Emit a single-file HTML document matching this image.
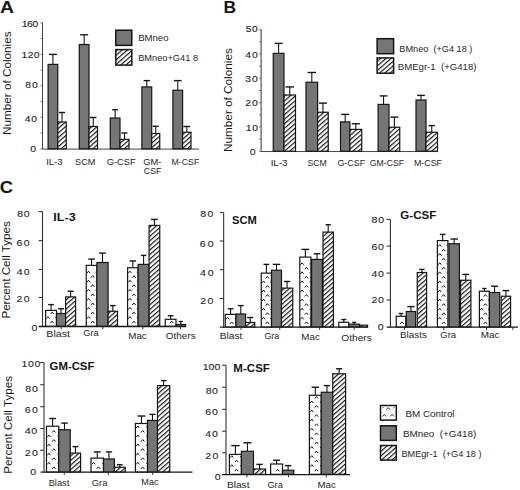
<!DOCTYPE html>
<html><head><meta charset="utf-8"><title>Figure</title>
<style>html,body{margin:0;padding:0;background:#fff;}svg{display:block;}text{font-family:"Liberation Sans",sans-serif;}</style>
</head><body>
<svg width="520" height="490" viewBox="0 0 520 490">
<defs>
<pattern id="hatch" width="3.45" height="10" patternUnits="userSpaceOnUse" patternTransform="rotate(49)">
<rect width="3.45" height="10" fill="#fff"/><rect x="0" y="0" width="1.15" height="10" fill="#141414"/>
</pattern>
</defs>
<rect width="520" height="490" fill="#fff"/>
<text x="0.01" y="13.00" font-size="16.5" font-weight="700" fill="#161616" textLength="13.98" lengthAdjust="spacingAndGlyphs">A</text>
<text x="223.41" y="13.10" font-size="16.5" font-weight="700" fill="#161616" textLength="12.58" lengthAdjust="spacingAndGlyphs">B</text>
<text x="-0.39" y="193.20" font-size="16.5" font-weight="700" fill="#161616" textLength="13.28" lengthAdjust="spacingAndGlyphs">C</text>
<line x1="42.50" y1="22.50" x2="42.50" y2="149.30" stroke="#444" stroke-width="1.0"/>
<line x1="40.50" y1="148.80" x2="42.50" y2="148.80" stroke="#555" stroke-width="0.8"/>
<line x1="40.50" y1="133.05" x2="42.50" y2="133.05" stroke="#555" stroke-width="0.8"/>
<line x1="40.50" y1="117.30" x2="42.50" y2="117.30" stroke="#555" stroke-width="0.8"/>
<line x1="40.50" y1="101.55" x2="42.50" y2="101.55" stroke="#555" stroke-width="0.8"/>
<line x1="40.50" y1="85.80" x2="42.50" y2="85.80" stroke="#555" stroke-width="0.8"/>
<line x1="40.50" y1="70.05" x2="42.50" y2="70.05" stroke="#555" stroke-width="0.8"/>
<line x1="40.50" y1="54.30" x2="42.50" y2="54.30" stroke="#555" stroke-width="0.8"/>
<line x1="40.50" y1="38.55" x2="42.50" y2="38.55" stroke="#555" stroke-width="0.8"/>
<line x1="40.50" y1="22.80" x2="42.50" y2="22.80" stroke="#555" stroke-width="0.8"/>
<line x1="42.50" y1="149.10" x2="199.00" y2="149.10" stroke="#444" stroke-width="1.0"/>
<text transform="translate(21.68,26.90) scale(1.18,1)" x="0" y="0" font-size="8.8" font-weight="400" fill="#1e1e1e" stroke="#1e1e1e" stroke-width="0.1" textLength="14.11" lengthAdjust="spacing">160</text>
<text transform="translate(21.58,57.90) scale(1.18,1)" x="0" y="0" font-size="8.8" font-weight="400" fill="#1e1e1e" stroke="#1e1e1e" stroke-width="0.1" textLength="15.29" lengthAdjust="spacing">120</text>
<text transform="translate(25.28,88.40) scale(1.18,1)" x="0" y="0" font-size="8.8" font-weight="400" fill="#1e1e1e" stroke="#1e1e1e" stroke-width="0.1" textLength="10.63" lengthAdjust="spacing">80</text>
<text transform="translate(24.68,121.50) scale(1.18,1)" x="0" y="0" font-size="8.8" font-weight="400" fill="#1e1e1e" stroke="#1e1e1e" stroke-width="0.1" textLength="10.46" lengthAdjust="spacing">40</text>
<text transform="translate(30.28,151.80) scale(1.18,1)" x="0" y="0" font-size="8.8" font-weight="400" fill="#1e1e1e" stroke="#1e1e1e" stroke-width="0.1" textLength="5.12" lengthAdjust="spacing">0</text>
<text transform="translate(10.60,134.90) rotate(-90)" x="0" y="0" font-size="11.6" fill="#161616" textLength="103.49" lengthAdjust="spacingAndGlyphs">Number of Colonies</text>
<rect x="48.10" y="64.40" width="9.65" height="84.40" fill="#757575" stroke="#161616" stroke-width="1.2"/>
<line x1="52.92" y1="64.40" x2="52.92" y2="54.40" stroke="#161616" stroke-width="1.1"/>
<line x1="48.92" y1="54.40" x2="56.92" y2="54.40" stroke="#161616" stroke-width="1.4"/>
<rect x="57.75" y="122.00" width="8.50" height="26.80" fill="url(#hatch)" stroke="#161616" stroke-width="1.2"/>
<line x1="62.00" y1="122.00" x2="62.00" y2="112.50" stroke="#161616" stroke-width="1.1"/>
<line x1="58.88" y1="112.50" x2="65.12" y2="112.50" stroke="#161616" stroke-width="1.4"/>
<rect x="79.30" y="44.50" width="9.70" height="104.30" fill="#757575" stroke="#161616" stroke-width="1.2"/>
<line x1="84.15" y1="44.50" x2="84.15" y2="34.80" stroke="#161616" stroke-width="1.1"/>
<line x1="80.15" y1="34.80" x2="88.15" y2="34.80" stroke="#161616" stroke-width="1.4"/>
<rect x="89.00" y="126.50" width="8.50" height="22.30" fill="url(#hatch)" stroke="#161616" stroke-width="1.2"/>
<line x1="93.25" y1="126.50" x2="93.25" y2="117.50" stroke="#161616" stroke-width="1.1"/>
<line x1="90.00" y1="117.50" x2="96.50" y2="117.50" stroke="#161616" stroke-width="1.4"/>
<rect x="110.25" y="118.00" width="9.75" height="30.80" fill="#757575" stroke="#161616" stroke-width="1.2"/>
<line x1="115.12" y1="118.00" x2="115.12" y2="109.75" stroke="#161616" stroke-width="1.1"/>
<line x1="112.12" y1="109.75" x2="118.12" y2="109.75" stroke="#161616" stroke-width="1.4"/>
<rect x="120.00" y="139.40" width="9.00" height="9.40" fill="url(#hatch)" stroke="#161616" stroke-width="1.2"/>
<line x1="124.50" y1="139.40" x2="124.50" y2="133.00" stroke="#161616" stroke-width="1.1"/>
<line x1="121.50" y1="133.00" x2="127.50" y2="133.00" stroke="#161616" stroke-width="1.4"/>
<rect x="141.90" y="86.90" width="9.80" height="61.90" fill="#757575" stroke="#161616" stroke-width="1.2"/>
<line x1="146.80" y1="86.90" x2="146.80" y2="80.60" stroke="#161616" stroke-width="1.1"/>
<line x1="143.60" y1="80.60" x2="150.00" y2="80.60" stroke="#161616" stroke-width="1.4"/>
<rect x="151.70" y="133.50" width="8.05" height="15.30" fill="url(#hatch)" stroke="#161616" stroke-width="1.2"/>
<line x1="155.72" y1="133.50" x2="155.72" y2="126.25" stroke="#161616" stroke-width="1.1"/>
<line x1="152.72" y1="126.25" x2="158.72" y2="126.25" stroke="#161616" stroke-width="1.4"/>
<rect x="172.90" y="90.25" width="9.70" height="58.55" fill="#757575" stroke="#161616" stroke-width="1.2"/>
<line x1="177.75" y1="90.25" x2="177.75" y2="80.60" stroke="#161616" stroke-width="1.1"/>
<line x1="173.90" y1="80.60" x2="181.60" y2="80.60" stroke="#161616" stroke-width="1.4"/>
<rect x="182.60" y="132.25" width="8.40" height="16.55" fill="url(#hatch)" stroke="#161616" stroke-width="1.2"/>
<line x1="186.80" y1="132.25" x2="186.80" y2="126.50" stroke="#161616" stroke-width="1.1"/>
<line x1="183.43" y1="126.50" x2="190.18" y2="126.50" stroke="#161616" stroke-width="1.4"/>
<rect x="115.8" y="30.2" width="16" height="15.2" fill="#757575" stroke="#161616" stroke-width="1.5"/>
<rect x="115.8" y="49.6" width="16" height="15.5" fill="url(#hatch)" stroke="#161616" stroke-width="1.5"/>
<text x="138.20" y="40.90" font-size="9.2" font-weight="400" fill="#262626" textLength="30.35" lengthAdjust="spacingAndGlyphs">BMneo</text>
<text x="138.20" y="60.60" font-size="9.2" font-weight="400" fill="#262626" textLength="59.85" lengthAdjust="spacingAndGlyphs">BMneo+G41 8</text>
<text x="46.15" y="165.00" font-size="9.2" font-weight="400" fill="#262626" textLength="16.40" lengthAdjust="spacingAndGlyphs">IL-3</text>
<text x="75.05" y="165.00" font-size="9.2" font-weight="400" fill="#262626" textLength="20.30" lengthAdjust="spacingAndGlyphs">SCM</text>
<text x="106.75" y="165.00" font-size="9.2" font-weight="400" fill="#262626" textLength="29.00" lengthAdjust="spacingAndGlyphs">G-CSF</text>
<text x="143.25" y="164.60" font-size="9.2" font-weight="400" fill="#262626" textLength="18.10" lengthAdjust="spacingAndGlyphs">GM-</text>
<text x="143.85" y="174.00" font-size="9.2" font-weight="400" fill="#262626" textLength="17.50" lengthAdjust="spacingAndGlyphs">CSF</text>
<text x="171.45" y="165.00" font-size="9.2" font-weight="400" fill="#262626" textLength="27.90" lengthAdjust="spacingAndGlyphs">M-CSF</text>
<line x1="261.10" y1="29.30" x2="261.10" y2="151.75" stroke="#444" stroke-width="1.1"/>
<line x1="259.10" y1="151.25" x2="261.10" y2="151.25" stroke="#555" stroke-width="0.8"/>
<line x1="259.10" y1="139.10" x2="261.10" y2="139.10" stroke="#555" stroke-width="0.8"/>
<line x1="259.10" y1="126.95" x2="261.10" y2="126.95" stroke="#555" stroke-width="0.8"/>
<line x1="259.10" y1="114.80" x2="261.10" y2="114.80" stroke="#555" stroke-width="0.8"/>
<line x1="259.10" y1="102.65" x2="261.10" y2="102.65" stroke="#555" stroke-width="0.8"/>
<line x1="259.10" y1="90.50" x2="261.10" y2="90.50" stroke="#555" stroke-width="0.8"/>
<line x1="259.10" y1="78.35" x2="261.10" y2="78.35" stroke="#555" stroke-width="0.8"/>
<line x1="259.10" y1="66.20" x2="261.10" y2="66.20" stroke="#555" stroke-width="0.8"/>
<line x1="259.10" y1="54.05" x2="261.10" y2="54.05" stroke="#555" stroke-width="0.8"/>
<line x1="259.10" y1="41.90" x2="261.10" y2="41.90" stroke="#555" stroke-width="0.8"/>
<line x1="259.10" y1="29.75" x2="261.10" y2="29.75" stroke="#555" stroke-width="0.8"/>
<line x1="261.10" y1="151.55" x2="437.50" y2="151.55" stroke="#444" stroke-width="1.0"/>
<text transform="translate(245.68,32.10) scale(1.18,1)" x="0" y="0" font-size="8.8" font-weight="400" fill="#1e1e1e" stroke="#1e1e1e" stroke-width="0.1" textLength="10.29" lengthAdjust="spacing">50</text>
<text transform="translate(245.28,57.70) scale(1.18,1)" x="0" y="0" font-size="8.8" font-weight="400" fill="#1e1e1e" stroke="#1e1e1e" stroke-width="0.1" textLength="10.63" lengthAdjust="spacing">40</text>
<text transform="translate(245.28,82.10) scale(1.18,1)" x="0" y="0" font-size="8.8" font-weight="400" fill="#1e1e1e" stroke="#1e1e1e" stroke-width="0.1" textLength="10.63" lengthAdjust="spacing">30</text>
<text transform="translate(245.28,105.60) scale(1.18,1)" x="0" y="0" font-size="8.8" font-weight="400" fill="#1e1e1e" stroke="#1e1e1e" stroke-width="0.1" textLength="10.63" lengthAdjust="spacing">20</text>
<text transform="translate(245.68,130.80) scale(1.18,1)" x="0" y="0" font-size="8.8" font-weight="400" fill="#1e1e1e" stroke="#1e1e1e" stroke-width="0.1" textLength="10.46" lengthAdjust="spacing">10</text>
<text transform="translate(249.68,154.60) scale(1.18,1)" x="0" y="0" font-size="8.8" font-weight="400" fill="#1e1e1e" stroke="#1e1e1e" stroke-width="0.1" textLength="4.78" lengthAdjust="spacing">0</text>
<text transform="translate(232.00,151.95) rotate(-90)" x="0" y="0" font-size="11.6" fill="#161616" textLength="103.74" lengthAdjust="spacingAndGlyphs">Number of Colonies</text>
<rect x="273.25" y="53.40" width="10.75" height="97.85" fill="#757575" stroke="#161616" stroke-width="1.2"/>
<line x1="278.62" y1="53.40" x2="278.62" y2="43.40" stroke="#161616" stroke-width="1.1"/>
<line x1="274.62" y1="43.40" x2="282.62" y2="43.40" stroke="#161616" stroke-width="1.4"/>
<rect x="284.00" y="95.00" width="11.50" height="56.25" fill="url(#hatch)" stroke="#161616" stroke-width="1.2"/>
<line x1="289.75" y1="95.00" x2="289.75" y2="86.90" stroke="#161616" stroke-width="1.1"/>
<line x1="285.50" y1="86.90" x2="294.00" y2="86.90" stroke="#161616" stroke-width="1.4"/>
<rect x="306.00" y="82.25" width="11.60" height="69.00" fill="#757575" stroke="#161616" stroke-width="1.2"/>
<line x1="311.80" y1="82.25" x2="311.80" y2="72.50" stroke="#161616" stroke-width="1.1"/>
<line x1="307.55" y1="72.50" x2="316.05" y2="72.50" stroke="#161616" stroke-width="1.4"/>
<rect x="317.60" y="112.25" width="10.65" height="39.00" fill="url(#hatch)" stroke="#161616" stroke-width="1.2"/>
<line x1="322.93" y1="112.25" x2="322.93" y2="103.10" stroke="#161616" stroke-width="1.1"/>
<line x1="318.88" y1="103.10" x2="326.98" y2="103.10" stroke="#161616" stroke-width="1.4"/>
<rect x="340.50" y="121.90" width="9.40" height="29.35" fill="#757575" stroke="#161616" stroke-width="1.2"/>
<line x1="345.20" y1="121.90" x2="345.20" y2="114.40" stroke="#161616" stroke-width="1.1"/>
<line x1="341.10" y1="114.40" x2="349.30" y2="114.40" stroke="#161616" stroke-width="1.4"/>
<rect x="349.90" y="129.40" width="11.85" height="21.85" fill="url(#hatch)" stroke="#161616" stroke-width="1.2"/>
<line x1="355.82" y1="129.40" x2="355.82" y2="123.75" stroke="#161616" stroke-width="1.1"/>
<line x1="351.77" y1="123.75" x2="359.88" y2="123.75" stroke="#161616" stroke-width="1.4"/>
<rect x="378.10" y="104.40" width="10.90" height="46.85" fill="#757575" stroke="#161616" stroke-width="1.2"/>
<line x1="383.55" y1="104.40" x2="383.55" y2="95.90" stroke="#161616" stroke-width="1.1"/>
<line x1="379.68" y1="95.90" x2="387.43" y2="95.90" stroke="#161616" stroke-width="1.4"/>
<rect x="389.00" y="127.25" width="10.75" height="24.00" fill="url(#hatch)" stroke="#161616" stroke-width="1.2"/>
<line x1="394.38" y1="127.25" x2="394.38" y2="117.10" stroke="#161616" stroke-width="1.1"/>
<line x1="390.50" y1="117.10" x2="398.25" y2="117.10" stroke="#161616" stroke-width="1.4"/>
<rect x="416.00" y="100.00" width="10.00" height="51.25" fill="#757575" stroke="#161616" stroke-width="1.2"/>
<line x1="421.00" y1="100.00" x2="421.00" y2="95.40" stroke="#161616" stroke-width="1.1"/>
<line x1="417.12" y1="95.40" x2="424.88" y2="95.40" stroke="#161616" stroke-width="1.4"/>
<rect x="426.00" y="132.25" width="11.50" height="19.00" fill="url(#hatch)" stroke="#161616" stroke-width="1.2"/>
<line x1="431.75" y1="132.25" x2="431.75" y2="125.60" stroke="#161616" stroke-width="1.1"/>
<line x1="428.62" y1="125.60" x2="434.88" y2="125.60" stroke="#161616" stroke-width="1.4"/>
<rect x="377.1" y="38.7" width="16.5" height="15" fill="#757575" stroke="#161616" stroke-width="1.5"/>
<rect x="377.1" y="57.9" width="16.5" height="15.3" fill="url(#hatch)" stroke="#161616" stroke-width="1.5"/>
<text x="399.35" y="51.60" font-size="9.2" font-weight="400" fill="#262626" textLength="73.00" lengthAdjust="spacingAndGlyphs">BMneo&#160;&#160;(+G4 18 )</text>
<text x="397.75" y="70.30" font-size="9.2" font-weight="400" fill="#262626" textLength="78.70" lengthAdjust="spacingAndGlyphs">BMEgr-1&#160;&#160;(+G418)</text>
<text x="270.65" y="166.00" font-size="9.2" font-weight="400" fill="#262626" textLength="16.90" lengthAdjust="spacingAndGlyphs">IL-3</text>
<text x="307.45" y="166.00" font-size="9.2" font-weight="400" fill="#262626" textLength="19.40" lengthAdjust="spacingAndGlyphs">SCM</text>
<text x="337.45" y="166.00" font-size="9.2" font-weight="400" fill="#262626" textLength="27.70" lengthAdjust="spacingAndGlyphs">G-CSF</text>
<text x="369.85" y="166.00" font-size="9.2" font-weight="400" fill="#262626" textLength="34.10" lengthAdjust="spacingAndGlyphs">GM-CSF</text>
<text x="413.95" y="166.20" font-size="9.2" font-weight="400" fill="#262626" textLength="28.10" lengthAdjust="spacingAndGlyphs">M-CSF</text>
<line x1="42.50" y1="211.60" x2="42.50" y2="326.70" stroke="#333" stroke-width="1.1"/>
<line x1="38.70" y1="211.60" x2="42.50" y2="211.60" stroke="#333" stroke-width="1.1"/>
<line x1="38.70" y1="240.60" x2="42.50" y2="240.60" stroke="#333" stroke-width="1.1"/>
<line x1="38.70" y1="269.40" x2="42.50" y2="269.40" stroke="#333" stroke-width="1.1"/>
<line x1="38.70" y1="297.50" x2="42.50" y2="297.50" stroke="#333" stroke-width="1.1"/>
<line x1="38.70" y1="326.50" x2="185.60" y2="326.50" stroke="#161616" stroke-width="1.3"/>
<line x1="61.25" y1="326.20" x2="61.25" y2="329.20" stroke="#333" stroke-width="1.0"/>
<line x1="102.90" y1="326.20" x2="102.90" y2="329.20" stroke="#333" stroke-width="1.0"/>
<line x1="142.80" y1="326.20" x2="142.80" y2="329.20" stroke="#333" stroke-width="1.0"/>
<line x1="180.40" y1="326.20" x2="180.40" y2="329.20" stroke="#333" stroke-width="1.0"/>
<text transform="translate(17.17,217.30) scale(1.15,1)" x="0" y="0" font-size="9.2" font-weight="400" fill="#1e1e1e" stroke="#1e1e1e" stroke-width="0.1" textLength="10.93" lengthAdjust="spacing">80</text>
<text transform="translate(16.57,246.40) scale(1.15,1)" x="0" y="0" font-size="9.2" font-weight="400" fill="#1e1e1e" stroke="#1e1e1e" stroke-width="0.1" textLength="11.45" lengthAdjust="spacing">60</text>
<text transform="translate(16.87,274.60) scale(1.15,1)" x="0" y="0" font-size="9.2" font-weight="400" fill="#1e1e1e" stroke="#1e1e1e" stroke-width="0.1" textLength="11.19" lengthAdjust="spacing">40</text>
<text transform="translate(16.57,302.40) scale(1.15,1)" x="0" y="0" font-size="9.2" font-weight="400" fill="#1e1e1e" stroke="#1e1e1e" stroke-width="0.1" textLength="11.45" lengthAdjust="spacing">20</text>
<text transform="translate(31.57,331.00) scale(1.15,1)" x="0" y="0" font-size="9.2" font-weight="400" fill="#1e1e1e" stroke="#1e1e1e" stroke-width="0.1" textLength="4.93" lengthAdjust="spacing">0</text>
<rect x="45.60" y="310.40" width="10.90" height="15.80" fill="#fff" stroke="#161616" stroke-width="1.2"/>
<path d="M50.44,323.20 L52.14,321.20 L53.84,323.20 M46.30,318.65 L47.90,316.65 L49.50,318.65 M55.20,317.65 L56.10,317.65 M50.44,314.10 L52.14,312.10 L53.84,314.10" fill="none" stroke="#161616" stroke-width="1.0"/>
<line x1="51.05" y1="310.40" x2="51.05" y2="304.60" stroke="#161616" stroke-width="1.1"/>
<line x1="48.17" y1="304.60" x2="53.92" y2="304.60" stroke="#161616" stroke-width="1.4"/>
<rect x="56.50" y="313.50" width="9.10" height="12.70" fill="#757575" stroke="#161616" stroke-width="1.2"/>
<line x1="61.05" y1="313.50" x2="61.05" y2="308.75" stroke="#161616" stroke-width="1.1"/>
<line x1="58.12" y1="308.75" x2="63.97" y2="308.75" stroke="#161616" stroke-width="1.4"/>
<rect x="65.60" y="296.90" width="10.00" height="29.30" fill="url(#hatch)" stroke="#161616" stroke-width="1.2"/>
<line x1="70.60" y1="296.90" x2="70.60" y2="291.25" stroke="#161616" stroke-width="1.1"/>
<line x1="67.60" y1="291.25" x2="73.60" y2="291.25" stroke="#161616" stroke-width="1.4"/>
<rect x="86.25" y="265.40" width="10.65" height="60.80" fill="#fff" stroke="#161616" stroke-width="1.2"/>
<path d="M90.94,323.20 L92.64,321.20 L94.34,323.20 M86.95,318.65 L88.55,316.65 L90.15,318.65 M95.60,317.65 L96.50,317.65 M90.94,314.10 L92.64,312.10 L94.34,314.10 M86.95,309.55 L88.55,307.55 L90.15,309.55 M95.60,308.55 L96.50,308.55 M90.94,305.00 L92.64,303.00 L94.34,305.00 M86.95,300.45 L88.55,298.45 L90.15,300.45 M95.60,299.45 L96.50,299.45 M90.94,295.90 L92.64,293.90 L94.34,295.90 M86.95,291.35 L88.55,289.35 L90.15,291.35 M95.60,290.35 L96.50,290.35 M90.94,286.80 L92.64,284.80 L94.34,286.80 M86.95,282.25 L88.55,280.25 L90.15,282.25 M95.60,281.25 L96.50,281.25 M90.94,277.70 L92.64,275.70 L94.34,277.70 M86.95,273.15 L88.55,271.15 L90.15,273.15 M95.60,272.15 L96.50,272.15" fill="none" stroke="#161616" stroke-width="1.0"/>
<line x1="91.58" y1="265.40" x2="91.58" y2="259.10" stroke="#161616" stroke-width="1.1"/>
<line x1="88.28" y1="259.10" x2="94.88" y2="259.10" stroke="#161616" stroke-width="1.4"/>
<rect x="96.90" y="262.50" width="11.20" height="63.70" fill="#757575" stroke="#161616" stroke-width="1.2"/>
<line x1="102.50" y1="262.50" x2="102.50" y2="253.10" stroke="#161616" stroke-width="1.1"/>
<line x1="99.17" y1="253.10" x2="105.83" y2="253.10" stroke="#161616" stroke-width="1.4"/>
<rect x="108.10" y="311.25" width="9.40" height="14.95" fill="url(#hatch)" stroke="#161616" stroke-width="1.2"/>
<line x1="112.80" y1="311.25" x2="112.80" y2="305.60" stroke="#161616" stroke-width="1.1"/>
<line x1="110.00" y1="305.60" x2="115.60" y2="305.60" stroke="#161616" stroke-width="1.4"/>
<rect x="127.60" y="267.75" width="10.50" height="58.45" fill="#fff" stroke="#161616" stroke-width="1.2"/>
<path d="M132.20,323.20 L133.90,321.20 L135.60,323.20 M128.30,318.65 L129.90,316.65 L131.50,318.65 M136.80,317.65 L137.70,317.65 M132.20,314.10 L133.90,312.10 L135.60,314.10 M128.30,309.55 L129.90,307.55 L131.50,309.55 M136.80,308.55 L137.70,308.55 M132.20,305.00 L133.90,303.00 L135.60,305.00 M128.30,300.45 L129.90,298.45 L131.50,300.45 M136.80,299.45 L137.70,299.45 M132.20,295.90 L133.90,293.90 L135.60,295.90 M128.30,291.35 L129.90,289.35 L131.50,291.35 M136.80,290.35 L137.70,290.35 M132.20,286.80 L133.90,284.80 L135.60,286.80 M128.30,282.25 L129.90,280.25 L131.50,282.25 M136.80,281.25 L137.70,281.25 M132.20,277.70 L133.90,275.70 L135.60,277.70 M128.30,273.15 L129.90,271.15 L131.50,273.15 M136.80,272.15 L137.70,272.15" fill="none" stroke="#161616" stroke-width="1.0"/>
<line x1="132.85" y1="267.75" x2="132.85" y2="261.00" stroke="#161616" stroke-width="1.1"/>
<line x1="129.60" y1="261.00" x2="136.10" y2="261.00" stroke="#161616" stroke-width="1.4"/>
<rect x="138.10" y="264.40" width="11.00" height="61.80" fill="#757575" stroke="#161616" stroke-width="1.2"/>
<line x1="143.60" y1="264.40" x2="143.60" y2="255.40" stroke="#161616" stroke-width="1.1"/>
<line x1="140.92" y1="255.40" x2="146.28" y2="255.40" stroke="#161616" stroke-width="1.4"/>
<rect x="149.10" y="225.40" width="10.65" height="100.80" fill="url(#hatch)" stroke="#161616" stroke-width="1.2"/>
<line x1="154.43" y1="225.40" x2="154.43" y2="219.40" stroke="#161616" stroke-width="1.1"/>
<line x1="151.05" y1="219.40" x2="157.80" y2="219.40" stroke="#161616" stroke-width="1.4"/>
<rect x="165.25" y="319.30" width="10.75" height="6.90" fill="#fff" stroke="#161616" stroke-width="1.2"/>
<path d="M170.00,323.20 L171.70,321.20 L173.40,323.20" fill="none" stroke="#161616" stroke-width="1.0"/>
<line x1="170.62" y1="319.30" x2="170.62" y2="315.80" stroke="#161616" stroke-width="1.1"/>
<line x1="167.78" y1="315.80" x2="173.47" y2="315.80" stroke="#161616" stroke-width="1.4"/>
<rect x="176.00" y="324.50" width="9.60" height="1.70" fill="#757575" stroke="#161616" stroke-width="1.2"/>
<line x1="180.80" y1="324.50" x2="180.80" y2="321.50" stroke="#161616" stroke-width="1.1"/>
<line x1="178.80" y1="321.50" x2="182.80" y2="321.50" stroke="#161616" stroke-width="1.4"/>
<text x="46.35" y="336.90" font-size="9.1" font-weight="400" fill="#262626" textLength="23.59" lengthAdjust="spacingAndGlyphs">Blast</text>
<text x="83.20" y="336.30" font-size="9.1" font-weight="400" fill="#262626" textLength="15.44" lengthAdjust="spacingAndGlyphs">Gra</text>
<text x="128.25" y="338.50" font-size="9.1" font-weight="400" fill="#262626" textLength="18.49" lengthAdjust="spacingAndGlyphs">Mac</text>
<text x="165.75" y="338.50" font-size="9.1" font-weight="400" fill="#262626" textLength="29.99" lengthAdjust="spacingAndGlyphs">Others</text>
<text x="53.34" y="221.20" font-size="11" font-weight="700" fill="#161616" textLength="22.32" lengthAdjust="spacingAndGlyphs">IL-3</text>
<text transform="translate(10.00,318.60) rotate(-90)" x="0" y="0" font-size="11.6" fill="#161616" textLength="97.39" lengthAdjust="spacingAndGlyphs">Percent Cell Types</text>
<line x1="223.65" y1="212.50" x2="223.65" y2="327.40" stroke="#333" stroke-width="1.1"/>
<line x1="219.85" y1="212.50" x2="223.65" y2="212.50" stroke="#333" stroke-width="1.1"/>
<line x1="219.85" y1="241.00" x2="223.65" y2="241.00" stroke="#333" stroke-width="1.1"/>
<line x1="219.85" y1="269.70" x2="223.65" y2="269.70" stroke="#333" stroke-width="1.1"/>
<line x1="219.85" y1="298.50" x2="223.65" y2="298.50" stroke="#333" stroke-width="1.1"/>
<line x1="219.80" y1="327.20" x2="368.00" y2="327.20" stroke="#161616" stroke-width="1.3"/>
<line x1="241.00" y1="326.90" x2="241.00" y2="329.90" stroke="#333" stroke-width="1.0"/>
<line x1="279.75" y1="326.90" x2="279.75" y2="329.90" stroke="#333" stroke-width="1.0"/>
<line x1="319.60" y1="326.90" x2="319.60" y2="329.90" stroke="#333" stroke-width="1.0"/>
<line x1="354.20" y1="326.90" x2="354.20" y2="329.90" stroke="#333" stroke-width="1.0"/>
<text transform="translate(200.27,217.30) scale(1.15,1)" x="0" y="0" font-size="9.2" font-weight="400" fill="#1e1e1e" stroke="#1e1e1e" stroke-width="0.1" textLength="11.45" lengthAdjust="spacing">80</text>
<text transform="translate(199.77,247.10) scale(1.15,1)" x="0" y="0" font-size="9.2" font-weight="400" fill="#1e1e1e" stroke="#1e1e1e" stroke-width="0.1" textLength="12.15" lengthAdjust="spacing">60</text>
<text transform="translate(199.97,275.50) scale(1.15,1)" x="0" y="0" font-size="9.2" font-weight="400" fill="#1e1e1e" stroke="#1e1e1e" stroke-width="0.1" textLength="11.80" lengthAdjust="spacing">40</text>
<text transform="translate(200.27,303.80) scale(1.15,1)" x="0" y="0" font-size="9.2" font-weight="400" fill="#1e1e1e" stroke="#1e1e1e" stroke-width="0.1" textLength="11.45" lengthAdjust="spacing">20</text>
<rect x="225.25" y="314.40" width="10.75" height="12.50" fill="#fff" stroke="#161616" stroke-width="1.2"/>
<path d="M230.00,323.90 L231.70,321.90 L233.40,323.90 M225.95,319.35 L227.55,317.35 L229.15,319.35 M234.70,318.35 L235.60,318.35" fill="none" stroke="#161616" stroke-width="1.0"/>
<line x1="230.62" y1="314.40" x2="230.62" y2="308.75" stroke="#161616" stroke-width="1.1"/>
<line x1="227.75" y1="308.75" x2="233.50" y2="308.75" stroke="#161616" stroke-width="1.4"/>
<rect x="236.00" y="314.00" width="9.60" height="12.90" fill="#757575" stroke="#161616" stroke-width="1.2"/>
<line x1="240.80" y1="314.00" x2="240.80" y2="305.60" stroke="#161616" stroke-width="1.1"/>
<line x1="237.93" y1="305.60" x2="243.68" y2="305.60" stroke="#161616" stroke-width="1.4"/>
<rect x="245.60" y="322.50" width="9.15" height="4.40" fill="url(#hatch)" stroke="#161616" stroke-width="1.2"/>
<line x1="250.18" y1="322.50" x2="250.18" y2="317.50" stroke="#161616" stroke-width="1.1"/>
<line x1="247.18" y1="317.50" x2="253.18" y2="317.50" stroke="#161616" stroke-width="1.4"/>
<rect x="261.25" y="273.10" width="10.25" height="53.80" fill="#fff" stroke="#161616" stroke-width="1.2"/>
<path d="M265.70,323.90 L267.40,321.90 L269.10,323.90 M261.95,319.35 L263.55,317.35 L265.15,319.35 M270.20,318.35 L271.10,318.35 M265.70,314.80 L267.40,312.80 L269.10,314.80 M261.95,310.25 L263.55,308.25 L265.15,310.25 M270.20,309.25 L271.10,309.25 M265.70,305.70 L267.40,303.70 L269.10,305.70 M261.95,301.15 L263.55,299.15 L265.15,301.15 M270.20,300.15 L271.10,300.15 M265.70,296.60 L267.40,294.60 L269.10,296.60 M261.95,292.05 L263.55,290.05 L265.15,292.05 M270.20,291.05 L271.10,291.05 M265.70,287.50 L267.40,285.50 L269.10,287.50 M261.95,282.95 L263.55,280.95 L265.15,282.95 M270.20,281.95 L271.10,281.95 M265.70,278.40 L267.40,276.40 L269.10,278.40" fill="none" stroke="#161616" stroke-width="1.0"/>
<line x1="266.38" y1="273.10" x2="266.38" y2="264.40" stroke="#161616" stroke-width="1.1"/>
<line x1="263.50" y1="264.40" x2="269.25" y2="264.40" stroke="#161616" stroke-width="1.4"/>
<rect x="271.50" y="270.25" width="10.00" height="56.65" fill="#757575" stroke="#161616" stroke-width="1.2"/>
<line x1="276.50" y1="270.25" x2="276.50" y2="264.40" stroke="#161616" stroke-width="1.1"/>
<line x1="272.75" y1="264.40" x2="280.25" y2="264.40" stroke="#161616" stroke-width="1.4"/>
<rect x="281.50" y="288.10" width="11.25" height="38.80" fill="url(#hatch)" stroke="#161616" stroke-width="1.2"/>
<line x1="287.12" y1="288.10" x2="287.12" y2="281.50" stroke="#161616" stroke-width="1.1"/>
<line x1="284.00" y1="281.50" x2="290.25" y2="281.50" stroke="#161616" stroke-width="1.4"/>
<rect x="299.80" y="257.10" width="11.10" height="69.80" fill="#fff" stroke="#161616" stroke-width="1.2"/>
<path d="M304.76,323.90 L306.46,321.90 L308.16,323.90 M300.50,319.35 L302.10,317.35 L303.70,319.35 M309.60,318.35 L310.50,318.35 M304.76,314.80 L306.46,312.80 L308.16,314.80 M300.50,310.25 L302.10,308.25 L303.70,310.25 M309.60,309.25 L310.50,309.25 M304.76,305.70 L306.46,303.70 L308.16,305.70 M300.50,301.15 L302.10,299.15 L303.70,301.15 M309.60,300.15 L310.50,300.15 M304.76,296.60 L306.46,294.60 L308.16,296.60 M300.50,292.05 L302.10,290.05 L303.70,292.05 M309.60,291.05 L310.50,291.05 M304.76,287.50 L306.46,285.50 L308.16,287.50 M300.50,282.95 L302.10,280.95 L303.70,282.95 M309.60,281.95 L310.50,281.95 M304.76,278.40 L306.46,276.40 L308.16,278.40 M300.50,273.85 L302.10,271.85 L303.70,273.85 M309.60,272.85 L310.50,272.85 M304.76,269.30 L306.46,267.30 L308.16,269.30 M300.50,264.75 L302.10,262.75 L303.70,264.75 M309.60,263.75 L310.50,263.75" fill="none" stroke="#161616" stroke-width="1.0"/>
<line x1="305.35" y1="257.10" x2="305.35" y2="249.40" stroke="#161616" stroke-width="1.1"/>
<line x1="301.45" y1="249.40" x2="309.25" y2="249.40" stroke="#161616" stroke-width="1.4"/>
<rect x="311.60" y="259.40" width="10.80" height="67.50" fill="#757575" stroke="#161616" stroke-width="1.2"/>
<line x1="317.00" y1="259.40" x2="317.00" y2="253.75" stroke="#161616" stroke-width="1.1"/>
<line x1="313.68" y1="253.75" x2="320.32" y2="253.75" stroke="#161616" stroke-width="1.4"/>
<rect x="323.00" y="232.10" width="10.40" height="94.80" fill="url(#hatch)" stroke="#161616" stroke-width="1.2"/>
<line x1="328.20" y1="232.10" x2="328.20" y2="224.75" stroke="#161616" stroke-width="1.1"/>
<line x1="325.57" y1="224.75" x2="330.82" y2="224.75" stroke="#161616" stroke-width="1.4"/>
<rect x="338.80" y="322.30" width="10.00" height="4.60" fill="#fff" stroke="#161616" stroke-width="1.2"/>
<path d="" fill="none" stroke="#161616" stroke-width="1.0"/>
<line x1="343.80" y1="322.30" x2="343.80" y2="319.50" stroke="#161616" stroke-width="1.1"/>
<line x1="341.30" y1="319.50" x2="346.30" y2="319.50" stroke="#161616" stroke-width="1.4"/>
<rect x="348.80" y="324.20" width="10.80" height="2.70" fill="#757575" stroke="#161616" stroke-width="1.2"/>
<line x1="354.20" y1="324.20" x2="354.20" y2="322.40" stroke="#161616" stroke-width="1.1"/>
<line x1="352.20" y1="322.40" x2="356.20" y2="322.40" stroke="#161616" stroke-width="1.4"/>
<rect x="359.60" y="325.20" width="8.00" height="1.70" fill="url(#hatch)" stroke="#161616" stroke-width="1.2"/>
<text x="219.75" y="339.20" font-size="9.1" font-weight="400" fill="#262626" textLength="22.69" lengthAdjust="spacingAndGlyphs">Blast</text>
<text x="264.45" y="339.20" font-size="9.1" font-weight="400" fill="#262626" textLength="14.84" lengthAdjust="spacingAndGlyphs">Gra</text>
<text x="301.35" y="340.00" font-size="9.1" font-weight="400" fill="#262626" textLength="18.49" lengthAdjust="spacingAndGlyphs">Mac</text>
<text x="341.35" y="340.60" font-size="9.1" font-weight="400" fill="#262626" textLength="30.39" lengthAdjust="spacingAndGlyphs">Others</text>
<text x="232.09" y="223.70" font-size="11" font-weight="700" fill="#161616" textLength="24.82" lengthAdjust="spacingAndGlyphs">SCM</text>
<line x1="390.40" y1="219.40" x2="390.40" y2="327.40" stroke="#333" stroke-width="1.1"/>
<line x1="386.60" y1="219.40" x2="390.40" y2="219.40" stroke="#333" stroke-width="1.1"/>
<line x1="386.60" y1="246.10" x2="390.40" y2="246.10" stroke="#333" stroke-width="1.1"/>
<line x1="386.60" y1="273.10" x2="390.40" y2="273.10" stroke="#333" stroke-width="1.1"/>
<line x1="386.60" y1="300.00" x2="390.40" y2="300.00" stroke="#333" stroke-width="1.1"/>
<line x1="386.80" y1="327.20" x2="518.00" y2="327.20" stroke="#161616" stroke-width="1.3"/>
<line x1="404.40" y1="326.90" x2="404.40" y2="329.90" stroke="#333" stroke-width="1.0"/>
<line x1="443.75" y1="326.90" x2="443.75" y2="329.90" stroke="#333" stroke-width="1.0"/>
<line x1="486.50" y1="326.90" x2="486.50" y2="329.90" stroke="#333" stroke-width="1.0"/>
<line x1="512.80" y1="326.90" x2="512.80" y2="329.90" stroke="#333" stroke-width="1.0"/>
<text transform="translate(371.57,222.50) scale(1.15,1)" x="0" y="0" font-size="9.2" font-weight="400" fill="#1e1e1e" stroke="#1e1e1e" stroke-width="0.1" textLength="10.89" lengthAdjust="spacing">80</text>
<text transform="translate(371.47,249.70) scale(1.15,1)" x="0" y="0" font-size="9.2" font-weight="400" fill="#1e1e1e" stroke="#1e1e1e" stroke-width="0.1" textLength="10.84" lengthAdjust="spacing">60</text>
<text transform="translate(371.47,276.60) scale(1.15,1)" x="0" y="0" font-size="9.2" font-weight="400" fill="#1e1e1e" stroke="#1e1e1e" stroke-width="0.1" textLength="10.84" lengthAdjust="spacing">40</text>
<text transform="translate(371.47,303.30) scale(1.15,1)" x="0" y="0" font-size="9.2" font-weight="400" fill="#1e1e1e" stroke="#1e1e1e" stroke-width="0.1" textLength="10.84" lengthAdjust="spacing">20</text>
<text transform="translate(377.87,330.00) scale(1.15,1)" x="0" y="0" font-size="9.2" font-weight="400" fill="#1e1e1e" stroke="#1e1e1e" stroke-width="0.1" textLength="4.84" lengthAdjust="spacing">0</text>
<rect x="396.25" y="316.25" width="9.55" height="10.65" fill="#fff" stroke="#161616" stroke-width="1.2"/>
<path d="M400.28,323.90 L401.98,321.90 L403.68,323.90" fill="none" stroke="#161616" stroke-width="1.0"/>
<line x1="401.02" y1="316.25" x2="401.02" y2="313.50" stroke="#161616" stroke-width="1.1"/>
<line x1="398.77" y1="313.50" x2="403.27" y2="313.50" stroke="#161616" stroke-width="1.4"/>
<rect x="406.30" y="311.50" width="9.30" height="15.40" fill="#757575" stroke="#161616" stroke-width="1.2"/>
<line x1="410.95" y1="311.50" x2="410.95" y2="306.60" stroke="#161616" stroke-width="1.1"/>
<line x1="407.33" y1="306.60" x2="414.58" y2="306.60" stroke="#161616" stroke-width="1.4"/>
<rect x="417.25" y="272.50" width="9.35" height="54.40" fill="url(#hatch)" stroke="#161616" stroke-width="1.2"/>
<line x1="421.93" y1="272.50" x2="421.93" y2="269.40" stroke="#161616" stroke-width="1.1"/>
<line x1="419.25" y1="269.40" x2="424.60" y2="269.40" stroke="#161616" stroke-width="1.4"/>
<rect x="437.40" y="240.60" width="10.50" height="86.30" fill="#fff" stroke="#161616" stroke-width="1.2"/>
<path d="M442.00,323.90 L443.70,321.90 L445.40,323.90 M438.10,319.35 L439.70,317.35 L441.30,319.35 M446.60,318.35 L447.50,318.35 M442.00,314.80 L443.70,312.80 L445.40,314.80 M438.10,310.25 L439.70,308.25 L441.30,310.25 M446.60,309.25 L447.50,309.25 M442.00,305.70 L443.70,303.70 L445.40,305.70 M438.10,301.15 L439.70,299.15 L441.30,301.15 M446.60,300.15 L447.50,300.15 M442.00,296.60 L443.70,294.60 L445.40,296.60 M438.10,292.05 L439.70,290.05 L441.30,292.05 M446.60,291.05 L447.50,291.05 M442.00,287.50 L443.70,285.50 L445.40,287.50 M438.10,282.95 L439.70,280.95 L441.30,282.95 M446.60,281.95 L447.50,281.95 M442.00,278.40 L443.70,276.40 L445.40,278.40 M438.10,273.85 L439.70,271.85 L441.30,273.85 M446.60,272.85 L447.50,272.85 M442.00,269.30 L443.70,267.30 L445.40,269.30 M438.10,264.75 L439.70,262.75 L441.30,264.75 M446.60,263.75 L447.50,263.75 M442.00,260.20 L443.70,258.20 L445.40,260.20 M438.10,255.65 L439.70,253.65 L441.30,255.65 M446.60,254.65 L447.50,254.65 M442.00,251.10 L443.70,249.10 L445.40,251.10 M438.10,246.55 L439.70,244.55 L441.30,246.55 M446.60,245.55 L447.50,245.55" fill="none" stroke="#161616" stroke-width="1.0"/>
<line x1="442.65" y1="240.60" x2="442.65" y2="234.40" stroke="#161616" stroke-width="1.1"/>
<line x1="439.85" y1="234.40" x2="445.45" y2="234.40" stroke="#161616" stroke-width="1.4"/>
<rect x="449.00" y="243.75" width="10.40" height="83.15" fill="#757575" stroke="#161616" stroke-width="1.2"/>
<line x1="454.20" y1="243.75" x2="454.20" y2="239.00" stroke="#161616" stroke-width="1.1"/>
<line x1="450.45" y1="239.00" x2="457.95" y2="239.00" stroke="#161616" stroke-width="1.4"/>
<rect x="460.60" y="280.25" width="10.30" height="46.65" fill="url(#hatch)" stroke="#161616" stroke-width="1.2"/>
<line x1="465.75" y1="280.25" x2="465.75" y2="274.40" stroke="#161616" stroke-width="1.1"/>
<line x1="462.32" y1="274.40" x2="469.18" y2="274.40" stroke="#161616" stroke-width="1.4"/>
<rect x="479.40" y="291.25" width="10.00" height="35.65" fill="#fff" stroke="#161616" stroke-width="1.2"/>
<path d="M483.70,323.90 L485.40,321.90 L487.10,323.90 M480.10,319.35 L481.70,317.35 L483.30,319.35 M488.10,318.35 L489.00,318.35 M483.70,314.80 L485.40,312.80 L487.10,314.80 M480.10,310.25 L481.70,308.25 L483.30,310.25 M488.10,309.25 L489.00,309.25 M483.70,305.70 L485.40,303.70 L487.10,305.70 M480.10,301.15 L481.70,299.15 L483.30,301.15 M488.10,300.15 L489.00,300.15 M483.70,296.60 L485.40,294.60 L487.10,296.60" fill="none" stroke="#161616" stroke-width="1.0"/>
<line x1="484.40" y1="291.25" x2="484.40" y2="288.50" stroke="#161616" stroke-width="1.1"/>
<line x1="482.20" y1="288.50" x2="486.60" y2="288.50" stroke="#161616" stroke-width="1.4"/>
<rect x="489.40" y="292.50" width="10.35" height="34.40" fill="#757575" stroke="#161616" stroke-width="1.2"/>
<line x1="494.57" y1="292.50" x2="494.57" y2="286.25" stroke="#161616" stroke-width="1.1"/>
<line x1="491.15" y1="286.25" x2="498.00" y2="286.25" stroke="#161616" stroke-width="1.4"/>
<rect x="501.25" y="296.25" width="9.35" height="30.65" fill="url(#hatch)" stroke="#161616" stroke-width="1.2"/>
<line x1="505.93" y1="296.25" x2="505.93" y2="290.60" stroke="#161616" stroke-width="1.1"/>
<line x1="502.50" y1="290.60" x2="509.35" y2="290.60" stroke="#161616" stroke-width="1.4"/>
<text x="400.05" y="338.10" font-size="9.1" font-weight="400" fill="#262626" textLength="26.74" lengthAdjust="spacingAndGlyphs">Blasts</text>
<text x="440.25" y="338.40" font-size="9.1" font-weight="400" fill="#262626" textLength="15.89" lengthAdjust="spacingAndGlyphs">Gra</text>
<text x="480.70" y="338.10" font-size="9.1" font-weight="400" fill="#262626" textLength="18.84" lengthAdjust="spacingAndGlyphs">Mac</text>
<text x="400.34" y="219.00" font-size="11" font-weight="700" fill="#161616" textLength="35.92" lengthAdjust="spacingAndGlyphs">G-CSF</text>
<line x1="44.00" y1="362.50" x2="44.00" y2="472.40" stroke="#333" stroke-width="1.1"/>
<line x1="40.20" y1="362.50" x2="44.00" y2="362.50" stroke="#333" stroke-width="1.1"/>
<line x1="40.20" y1="384.75" x2="44.00" y2="384.75" stroke="#333" stroke-width="1.1"/>
<line x1="40.20" y1="406.70" x2="44.00" y2="406.70" stroke="#333" stroke-width="1.1"/>
<line x1="40.20" y1="428.50" x2="44.00" y2="428.50" stroke="#333" stroke-width="1.1"/>
<line x1="40.20" y1="450.20" x2="44.00" y2="450.20" stroke="#333" stroke-width="1.1"/>
<line x1="40.60" y1="472.20" x2="192.50" y2="472.20" stroke="#161616" stroke-width="1.3"/>
<line x1="64.25" y1="471.90" x2="64.25" y2="474.90" stroke="#333" stroke-width="1.0"/>
<line x1="108.30" y1="471.90" x2="108.30" y2="474.90" stroke="#333" stroke-width="1.0"/>
<line x1="152.70" y1="471.90" x2="152.70" y2="474.90" stroke="#333" stroke-width="1.0"/>
<text transform="translate(21.57,367.30) scale(1.15,1)" x="0" y="0" font-size="9.2" font-weight="400" fill="#1e1e1e" stroke="#1e1e1e" stroke-width="0.1" textLength="16.32" lengthAdjust="spacing">100</text>
<text transform="translate(25.27,391.70) scale(1.15,1)" x="0" y="0" font-size="9.2" font-weight="400" fill="#1e1e1e" stroke="#1e1e1e" stroke-width="0.1" textLength="10.93" lengthAdjust="spacing">80</text>
<text transform="translate(24.67,412.70) scale(1.15,1)" x="0" y="0" font-size="9.2" font-weight="400" fill="#1e1e1e" stroke="#1e1e1e" stroke-width="0.1" textLength="11.54" lengthAdjust="spacing">60</text>
<text transform="translate(24.67,434.10) scale(1.15,1)" x="0" y="0" font-size="9.2" font-weight="400" fill="#1e1e1e" stroke="#1e1e1e" stroke-width="0.1" textLength="10.93" lengthAdjust="spacing">40</text>
<text transform="translate(24.67,456.20) scale(1.15,1)" x="0" y="0" font-size="9.2" font-weight="400" fill="#1e1e1e" stroke="#1e1e1e" stroke-width="0.1" textLength="11.54" lengthAdjust="spacing">20</text>
<text transform="translate(30.27,475.40) scale(1.15,1)" x="0" y="0" font-size="9.2" font-weight="400" fill="#1e1e1e" stroke="#1e1e1e" stroke-width="0.1" textLength="4.93" lengthAdjust="spacing">0</text>
<rect x="46.50" y="426.25" width="12.25" height="45.65" fill="#fff" stroke="#161616" stroke-width="1.2"/>
<path d="M52.15,468.90 L53.85,466.90 L55.55,468.90 M47.35,464.35 L48.95,462.35 L50.55,464.35 M57.45,463.35 L58.35,463.35 M52.15,459.80 L53.85,457.80 L55.55,459.80 M47.35,455.25 L48.95,453.25 L50.55,455.25 M57.45,454.25 L58.35,454.25 M52.15,450.70 L53.85,448.70 L55.55,450.70 M47.35,446.15 L48.95,444.15 L50.55,446.15 M57.45,445.15 L58.35,445.15 M52.15,441.60 L53.85,439.60 L55.55,441.60 M47.35,437.05 L48.95,435.05 L50.55,437.05 M57.45,436.05 L58.35,436.05 M52.15,432.50 L53.85,430.50 L55.55,432.50" fill="none" stroke="#161616" stroke-width="1.0"/>
<line x1="52.62" y1="426.25" x2="52.62" y2="418.50" stroke="#161616" stroke-width="1.1"/>
<line x1="49.33" y1="418.50" x2="55.92" y2="418.50" stroke="#161616" stroke-width="1.4"/>
<rect x="58.75" y="429.75" width="11.50" height="42.15" fill="#757575" stroke="#161616" stroke-width="1.2"/>
<line x1="64.50" y1="429.75" x2="64.50" y2="423.10" stroke="#161616" stroke-width="1.1"/>
<line x1="61.25" y1="423.10" x2="67.75" y2="423.10" stroke="#161616" stroke-width="1.4"/>
<rect x="70.25" y="453.10" width="10.35" height="18.80" fill="url(#hatch)" stroke="#161616" stroke-width="1.2"/>
<line x1="75.42" y1="453.10" x2="75.42" y2="446.60" stroke="#161616" stroke-width="1.1"/>
<line x1="72.50" y1="446.60" x2="78.35" y2="446.60" stroke="#161616" stroke-width="1.4"/>
<rect x="91.00" y="458.10" width="12.50" height="13.80" fill="#fff" stroke="#161616" stroke-width="1.2"/>
<path d="M96.80,468.90 L98.50,466.90 L100.20,468.90 M91.90,464.35 L93.50,462.35 L95.10,464.35 M102.20,463.35 L103.10,463.35" fill="none" stroke="#161616" stroke-width="1.0"/>
<line x1="97.25" y1="458.10" x2="97.25" y2="451.90" stroke="#161616" stroke-width="1.1"/>
<line x1="93.80" y1="451.90" x2="100.70" y2="451.90" stroke="#161616" stroke-width="1.4"/>
<rect x="103.50" y="459.00" width="10.90" height="12.90" fill="#757575" stroke="#161616" stroke-width="1.2"/>
<line x1="108.95" y1="459.00" x2="108.95" y2="451.90" stroke="#161616" stroke-width="1.1"/>
<line x1="105.83" y1="451.90" x2="112.08" y2="451.90" stroke="#161616" stroke-width="1.4"/>
<rect x="114.40" y="467.25" width="10.85" height="4.65" fill="url(#hatch)" stroke="#161616" stroke-width="1.2"/>
<line x1="119.83" y1="467.25" x2="119.83" y2="464.75" stroke="#161616" stroke-width="1.1"/>
<line x1="117.00" y1="464.75" x2="122.65" y2="464.75" stroke="#161616" stroke-width="1.4"/>
<rect x="135.40" y="423.50" width="12.10" height="48.40" fill="#fff" stroke="#161616" stroke-width="1.2"/>
<path d="M140.96,468.90 L142.66,466.90 L144.36,468.90 M136.22,464.35 L137.82,462.35 L139.42,464.35 M146.20,463.35 L147.10,463.35 M140.96,459.80 L142.66,457.80 L144.36,459.80 M136.22,455.25 L137.82,453.25 L139.42,455.25 M146.20,454.25 L147.10,454.25 M140.96,450.70 L142.66,448.70 L144.36,450.70 M136.22,446.15 L137.82,444.15 L139.42,446.15 M146.20,445.15 L147.10,445.15 M140.96,441.60 L142.66,439.60 L144.36,441.60 M136.22,437.05 L137.82,435.05 L139.42,437.05 M146.20,436.05 L147.10,436.05 M140.96,432.50 L142.66,430.50 L144.36,432.50 M136.22,427.95 L137.82,425.95 L139.42,427.95 M146.20,426.95 L147.10,426.95" fill="none" stroke="#161616" stroke-width="1.0"/>
<line x1="141.45" y1="423.50" x2="141.45" y2="416.00" stroke="#161616" stroke-width="1.1"/>
<line x1="137.50" y1="416.00" x2="145.40" y2="416.00" stroke="#161616" stroke-width="1.4"/>
<rect x="147.50" y="420.40" width="10.00" height="51.50" fill="#757575" stroke="#161616" stroke-width="1.2"/>
<line x1="152.50" y1="420.40" x2="152.50" y2="414.40" stroke="#161616" stroke-width="1.1"/>
<line x1="149.40" y1="414.40" x2="155.60" y2="414.40" stroke="#161616" stroke-width="1.4"/>
<rect x="157.50" y="385.60" width="12.25" height="86.30" fill="url(#hatch)" stroke="#161616" stroke-width="1.2"/>
<line x1="163.62" y1="385.60" x2="163.62" y2="380.60" stroke="#161616" stroke-width="1.1"/>
<line x1="160.88" y1="380.60" x2="166.38" y2="380.60" stroke="#161616" stroke-width="1.4"/>
<text x="48.70" y="486.20" font-size="9.1" font-weight="400" fill="#262626" textLength="20.59" lengthAdjust="spacingAndGlyphs">Blast</text>
<text x="91.70" y="485.80" font-size="9.1" font-weight="400" fill="#262626" textLength="15.74" lengthAdjust="spacingAndGlyphs">Gra</text>
<text x="141.35" y="485.00" font-size="9.1" font-weight="400" fill="#262626" textLength="17.29" lengthAdjust="spacingAndGlyphs">Mac</text>
<text x="49.59" y="370.20" font-size="11" font-weight="700" fill="#161616" textLength="44.82" lengthAdjust="spacingAndGlyphs">GM-CSF</text>
<text transform="translate(12.30,473.70) rotate(-90)" x="0" y="0" font-size="11.6" fill="#161616" textLength="97.79" lengthAdjust="spacingAndGlyphs">Percent Cell Types</text>
<line x1="226.00" y1="365.25" x2="226.00" y2="474.80" stroke="#333" stroke-width="1.1"/>
<line x1="222.20" y1="365.25" x2="226.00" y2="365.25" stroke="#333" stroke-width="1.1"/>
<line x1="222.20" y1="387.25" x2="226.00" y2="387.25" stroke="#333" stroke-width="1.1"/>
<line x1="222.20" y1="409.40" x2="226.00" y2="409.40" stroke="#333" stroke-width="1.1"/>
<line x1="222.20" y1="431.25" x2="226.00" y2="431.25" stroke="#333" stroke-width="1.1"/>
<line x1="222.20" y1="452.75" x2="226.00" y2="452.75" stroke="#333" stroke-width="1.1"/>
<line x1="221.90" y1="474.60" x2="350.00" y2="474.60" stroke="#161616" stroke-width="1.3"/>
<line x1="246.90" y1="474.30" x2="246.90" y2="477.30" stroke="#333" stroke-width="1.0"/>
<line x1="288.50" y1="474.30" x2="288.50" y2="477.30" stroke="#333" stroke-width="1.0"/>
<line x1="326.25" y1="474.30" x2="326.25" y2="477.30" stroke="#333" stroke-width="1.0"/>
<text transform="translate(202.77,369.80) scale(1.15,1)" x="0" y="0" font-size="9.2" font-weight="400" fill="#1e1e1e" stroke="#1e1e1e" stroke-width="0.1" textLength="15.28" lengthAdjust="spacing">100</text>
<text transform="translate(205.67,394.20) scale(1.15,1)" x="0" y="0" font-size="9.2" font-weight="400" fill="#1e1e1e" stroke="#1e1e1e" stroke-width="0.1" textLength="10.58" lengthAdjust="spacing">80</text>
<text transform="translate(205.27,415.40) scale(1.15,1)" x="0" y="0" font-size="9.2" font-weight="400" fill="#1e1e1e" stroke="#1e1e1e" stroke-width="0.1" textLength="10.93" lengthAdjust="spacing">60</text>
<text transform="translate(205.27,437.30) scale(1.15,1)" x="0" y="0" font-size="9.2" font-weight="400" fill="#1e1e1e" stroke="#1e1e1e" stroke-width="0.1" textLength="10.93" lengthAdjust="spacing">40</text>
<text transform="translate(205.27,458.50) scale(1.15,1)" x="0" y="0" font-size="9.2" font-weight="400" fill="#1e1e1e" stroke="#1e1e1e" stroke-width="0.1" textLength="11.45" lengthAdjust="spacing">20</text>
<text transform="translate(214.67,480.40) scale(1.15,1)" x="0" y="0" font-size="9.2" font-weight="400" fill="#1e1e1e" stroke="#1e1e1e" stroke-width="0.1" textLength="5.45" lengthAdjust="spacing">0</text>
<rect x="229.40" y="454.40" width="12.00" height="19.90" fill="#fff" stroke="#161616" stroke-width="1.2"/>
<path d="M234.90,471.30 L236.60,469.30 L238.30,471.30 M230.20,466.75 L231.80,464.75 L233.40,466.75 M240.10,465.75 L241.00,465.75 M234.90,462.20 L236.60,460.20 L238.30,462.20 M230.20,457.65 L231.80,455.65 L233.40,457.65 M240.10,456.65 L241.00,456.65" fill="none" stroke="#161616" stroke-width="1.0"/>
<line x1="235.40" y1="454.40" x2="235.40" y2="445.60" stroke="#161616" stroke-width="1.1"/>
<line x1="231.22" y1="445.60" x2="239.58" y2="445.60" stroke="#161616" stroke-width="1.4"/>
<rect x="241.40" y="451.25" width="12.10" height="23.05" fill="#757575" stroke="#161616" stroke-width="1.2"/>
<line x1="247.45" y1="451.25" x2="247.45" y2="442.75" stroke="#161616" stroke-width="1.1"/>
<line x1="243.38" y1="442.75" x2="251.52" y2="442.75" stroke="#161616" stroke-width="1.4"/>
<rect x="253.50" y="469.00" width="12.10" height="5.30" fill="url(#hatch)" stroke="#161616" stroke-width="1.2"/>
<line x1="259.55" y1="469.00" x2="259.55" y2="464.40" stroke="#161616" stroke-width="1.1"/>
<line x1="256.30" y1="464.40" x2="262.80" y2="464.40" stroke="#161616" stroke-width="1.4"/>
<rect x="270.60" y="464.00" width="11.90" height="10.30" fill="#fff" stroke="#161616" stroke-width="1.2"/>
<path d="M276.04,471.30 L277.74,469.30 L279.44,471.30" fill="none" stroke="#161616" stroke-width="1.0"/>
<line x1="276.55" y1="464.00" x2="276.55" y2="460.25" stroke="#161616" stroke-width="1.1"/>
<line x1="273.10" y1="460.25" x2="280.00" y2="460.25" stroke="#161616" stroke-width="1.4"/>
<rect x="282.50" y="470.25" width="11.25" height="4.05" fill="#757575" stroke="#161616" stroke-width="1.2"/>
<line x1="288.12" y1="470.25" x2="288.12" y2="465.60" stroke="#161616" stroke-width="1.1"/>
<line x1="284.80" y1="465.60" x2="291.45" y2="465.60" stroke="#161616" stroke-width="1.4"/>
<rect x="309.40" y="395.25" width="11.85" height="79.05" fill="#fff" stroke="#161616" stroke-width="1.2"/>
<path d="M314.81,471.30 L316.51,469.30 L318.21,471.30 M310.17,466.75 L311.77,464.75 L313.37,466.75 M319.95,465.75 L320.85,465.75 M314.81,462.20 L316.51,460.20 L318.21,462.20 M310.17,457.65 L311.77,455.65 L313.37,457.65 M319.95,456.65 L320.85,456.65 M314.81,453.10 L316.51,451.10 L318.21,453.10 M310.17,448.55 L311.77,446.55 L313.37,448.55 M319.95,447.55 L320.85,447.55 M314.81,444.00 L316.51,442.00 L318.21,444.00 M310.17,439.45 L311.77,437.45 L313.37,439.45 M319.95,438.45 L320.85,438.45 M314.81,434.90 L316.51,432.90 L318.21,434.90 M310.17,430.35 L311.77,428.35 L313.37,430.35 M319.95,429.35 L320.85,429.35 M314.81,425.80 L316.51,423.80 L318.21,425.80 M310.17,421.25 L311.77,419.25 L313.37,421.25 M319.95,420.25 L320.85,420.25 M314.81,416.70 L316.51,414.70 L318.21,416.70 M310.17,412.15 L311.77,410.15 L313.37,412.15 M319.95,411.15 L320.85,411.15 M314.81,407.60 L316.51,405.60 L318.21,407.60 M310.17,403.05 L311.77,401.05 L313.37,403.05 M319.95,402.05 L320.85,402.05 M314.81,398.50 L316.51,396.50 L318.21,398.50" fill="none" stroke="#161616" stroke-width="1.0"/>
<line x1="315.32" y1="395.25" x2="315.32" y2="387.25" stroke="#161616" stroke-width="1.1"/>
<line x1="311.57" y1="387.25" x2="319.07" y2="387.25" stroke="#161616" stroke-width="1.4"/>
<rect x="321.25" y="392.25" width="11.50" height="82.05" fill="#757575" stroke="#161616" stroke-width="1.2"/>
<line x1="327.00" y1="392.25" x2="327.00" y2="385.60" stroke="#161616" stroke-width="1.1"/>
<line x1="323.90" y1="385.60" x2="330.10" y2="385.60" stroke="#161616" stroke-width="1.4"/>
<rect x="332.75" y="373.75" width="12.85" height="100.55" fill="url(#hatch)" stroke="#161616" stroke-width="1.2"/>
<line x1="339.18" y1="373.75" x2="339.18" y2="368.75" stroke="#161616" stroke-width="1.1"/>
<line x1="336.05" y1="368.75" x2="342.30" y2="368.75" stroke="#161616" stroke-width="1.4"/>
<text x="226.95" y="488.10" font-size="9.1" font-weight="400" fill="#262626" textLength="22.59" lengthAdjust="spacingAndGlyphs">Blast</text>
<text x="267.45" y="488.10" font-size="9.1" font-weight="400" fill="#262626" textLength="15.34" lengthAdjust="spacingAndGlyphs">Gra</text>
<text x="317.55" y="487.50" font-size="9.1" font-weight="400" fill="#262626" textLength="18.24" lengthAdjust="spacingAndGlyphs">Mac</text>
<text x="233.34" y="372.30" font-size="11" font-weight="700" fill="#161616" textLength="36.57" lengthAdjust="spacingAndGlyphs">M-CSF</text>
<rect x="380.5" y="405.5" width="15.8" height="14.6" fill="#fff" stroke="#161616" stroke-width="1.5"/>
<path d="M386.3,409.6 L388.2,407.6 L390.1,409.6 M382.6,416.4 L384.4,414.4 L386.2,416.4 M390.4,416.4 L392.2,414.4 L394,416.4 M382.5,408.2 L383.3,407.2 M393.5,408.2 L394.3,407.2" fill="none" stroke="#161616" stroke-width="0.9"/>
<rect x="380.5" y="425.8" width="15.8" height="14.6" fill="#757575" stroke="#161616" stroke-width="1.5"/>
<rect x="380.5" y="445.5" width="15.8" height="14.6" fill="url(#hatch)" stroke="#161616" stroke-width="1.5"/>
<text x="405.46" y="417.00" font-size="9.0" font-weight="400" fill="#262626" textLength="49.08" lengthAdjust="spacingAndGlyphs">BM Control</text>
<text x="402.96" y="437.20" font-size="9.0" font-weight="400" fill="#262626" textLength="73.38" lengthAdjust="spacingAndGlyphs">BMneo&#160;&#160;(+G418)</text>
<text x="401.46" y="456.80" font-size="9.0" font-weight="400" fill="#262626" textLength="80.08" lengthAdjust="spacingAndGlyphs">BMEgr-1&#160;&#160;(+G4 18 )</text>
</svg>
</body></html>
